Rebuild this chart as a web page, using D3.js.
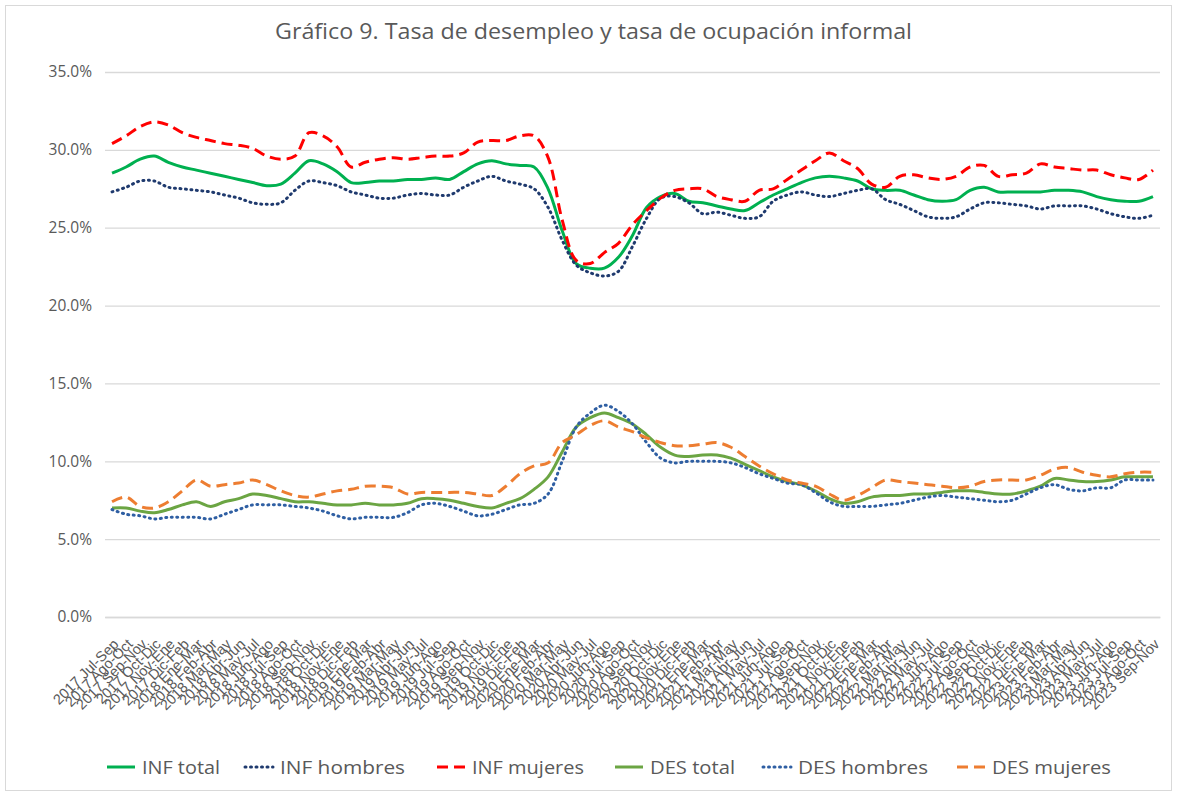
<!DOCTYPE html>
<html><head><meta charset="utf-8">
<script src="https://cdn.jsdelivr.net/npm/d3@7"></script>
<style>
body{margin:0;background:#fff;}
svg{display:block;font-family:"Open Sans","Liberation Sans",sans-serif;}
</style></head>
<body><svg id="c" width="1177" height="796"></svg>
<script>
const categories = [
"2017 Jul-Sep","2017 Ago-Oct","2017 Sep-Nov","2017 Oct-Dic","2017 Nov-Ene","2017 Dic-Feb",
"2018 Ene-Mar","2018 Feb-Abr","2018 Mar-May","2018 Abr-Jun","2018 May-Jul","2018 Jun-Ago",
"2018 Jul-Sep","2018 Ago-Oct","2018 Sep-Nov","2018 Oct-Dic","2018 Nov-Ene","2018 Dic-Feb",
"2019 Ene-Mar","2019 Feb-Abr","2019 Mar-May","2019 Abr-Jun","2019 May-Jul","2019 Jun-Ago",
"2019 Jul-Sep","2019 Ago-Oct","2019 Sep-Nov","2019 Oct-Dic","2019 Nov-Ene","2019 Dic-Feb",
"2020 Ene-Mar","2020 Feb-Abr","2020 Mar-May","2020 Abr-Jun","2020 May-Jul","2020 Jun-Ago",
"2020 Jul-Sep","2020 Ago-Oct","2020 Sep-Nov","2020 Oct-Dic","2020 Nov-Ene","2020 Dic-Feb",
"2021 Ene-Mar","2021 Feb-Abr","2021 Mar-May","2021 Abr-Jun","2021 May-Jul","2021 Jun-Ago",
"2021 Jul-Sep","2021 Ago-Oct","2021 Sep-Nov","2021 Oct-Dic","2021 Nov-Ene","2021 Dic-Feb",
"2022 Ene-Mar","2022 Feb-Abr","2022 Mar-May","2022 Abr-Jun","2022 May-Jul","2022 Jun-Ago",
"2022 Jul-Sep","2022 Ago-Oct","2022 Sep-Nov","2022 Oct-Dic","2022 Nov-Ene","2022 Dic-Feb",
"2023 Ene-Mar","2023 Feb-Abr","2023 Mar-May","2023 Abr-Jun","2023 May-Jul","2023 Jun-Ago",
"2023 Jul-Sep","2023 Ago-Oct","2023 Sep-Nov"];

const infTotal = [28.5,28.9,29.4,29.6,29.2,28.9,28.7,28.5,28.3,28.1,27.9,27.7,27.8,28.5,29.3,29.1,28.6,27.9,27.9,28.0,
28.0,28.1,28.1,28.2,28.1,28.6,29.1,29.3,29.1,29.0,28.9,27.5,24.8,22.7,22.4,22.4,23.1,24.5,26.3,27.0,
27.2,26.7,26.6,26.4,26.2,26.1,26.6,27.1,27.5,27.9,28.2,28.3,28.2,28.0,27.5,27.4,27.4,27.1,26.8,26.7,
26.8,27.4,27.6,27.3,27.3,27.3,27.3,27.4,27.4,27.3,27.0,26.8,26.7,26.7,27.0];
const infHombres = [27.3,27.6,28.0,28.0,27.6,27.5,27.4,27.3,27.1,26.9,26.6,26.5,26.6,27.4,28.0,27.9,27.7,27.3,27.1,26.9,
26.9,27.1,27.2,27.1,27.1,27.6,28.0,28.3,28.0,27.8,27.5,26.3,24.2,22.6,22.1,21.9,22.2,23.8,25.6,26.9,
27.0,26.6,25.9,26.0,25.8,25.6,25.7,26.7,27.1,27.3,27.1,27.0,27.2,27.4,27.5,26.8,26.5,26.1,25.7,25.6,
25.7,26.2,26.6,26.6,26.5,26.4,26.2,26.4,26.4,26.4,26.2,25.9,25.7,25.6,25.8];
const infMujeres = [30.4,30.9,31.5,31.8,31.6,31.1,30.8,30.6,30.4,30.3,30.1,29.6,29.4,29.6,31.1,30.9,30.2,28.9,29.2,29.4,
29.5,29.4,29.5,29.6,29.6,29.8,30.5,30.6,30.6,30.9,30.9,29.5,25.5,22.9,22.7,23.4,24.0,25.2,26.1,26.9,
27.4,27.5,27.5,27.0,26.8,26.7,27.4,27.5,28.1,28.7,29.3,29.8,29.3,28.8,27.8,27.6,28.3,28.4,28.2,28.1,
28.3,28.9,29.0,28.3,28.4,28.5,29.1,28.9,28.8,28.7,28.7,28.4,28.2,28.1,28.7];
const desTotal = [7.0,7.0,6.8,6.7,6.9,7.2,7.4,7.1,7.4,7.6,7.9,7.8,7.6,7.4,7.4,7.3,7.2,7.2,7.3,7.2,
7.2,7.3,7.6,7.6,7.5,7.3,7.1,7.0,7.3,7.6,8.2,9.0,10.6,12.2,12.8,13.1,12.8,12.4,11.7,10.9,
10.4,10.3,10.4,10.4,10.2,9.8,9.4,9.0,8.7,8.5,8.1,7.6,7.3,7.4,7.7,7.8,7.8,7.9,7.9,8.0,
8.1,8.1,8.0,7.9,7.9,8.1,8.4,8.9,8.8,8.7,8.7,8.8,9.0,9.0,9.0];
const desHombres = [6.9,6.6,6.5,6.3,6.4,6.4,6.4,6.3,6.6,6.9,7.2,7.2,7.2,7.1,7.0,6.8,6.5,6.3,6.4,6.4,
6.4,6.7,7.2,7.3,7.1,6.8,6.5,6.6,6.9,7.2,7.3,7.9,10.0,12.2,13.1,13.6,13.2,12.4,11.2,10.2,
9.9,10.0,10.0,10.0,9.9,9.6,9.2,8.9,8.6,8.5,8.0,7.4,7.1,7.1,7.1,7.2,7.3,7.5,7.7,7.8,
7.7,7.6,7.5,7.4,7.5,7.9,8.3,8.5,8.2,8.1,8.3,8.3,8.8,8.8,8.8];
const desMujeres = [7.4,7.7,7.1,7.0,7.4,8.1,8.8,8.4,8.5,8.6,8.8,8.5,8.1,7.8,7.7,7.9,8.1,8.2,8.4,8.4,
8.3,7.9,8.0,8.0,8.0,8.0,7.9,7.8,8.4,9.2,9.7,9.9,11.2,11.7,12.3,12.6,12.2,11.9,11.5,11.2,
11.0,11.0,11.1,11.2,10.9,10.3,9.7,9.2,8.8,8.6,8.4,7.9,7.5,7.8,8.3,8.8,8.7,8.6,8.5,8.4,
8.3,8.4,8.7,8.8,8.8,8.8,9.1,9.5,9.6,9.3,9.1,9.0,9.2,9.3,9.3];

const seriesNames = ["INF total","INF hombres","INF mujeres","DES total","DES hombres","DES mujeres"];
const yTicks = [0,5,10,15,20,25,30,35];
const title = "Gráfico 9. Tasa de desempleo y tasa de ocupación informal";

const seriesValues = [infTotal, infHombres, infMujeres, desTotal, desHombres, desMujeres];
const styles = [
  {color:"#00B050", dash:null, cap:"butt", lx:107, tw:78},
  {color:"#1F3A6E", dash:"1,4.5", cap:"round", lx:245, tw:125},
  {color:"#FF0000", dash:"11,6", cap:"butt", lx:437, tw:112},
  {color:"#6BA543", dash:null, cap:"butt", lx:615, tw:85},
  {color:"#2F5FA3", dash:"1,4.5", cap:"round", lx:763, tw:130},
  {color:"#ED7D31", dash:"11,6", cap:"butt", lx:957, tw:119}
];

const svg = d3.select("#c");
svg.append("rect").attr("x",5.5).attr("y",5.5).attr("width",1166).attr("height",785)
  .attr("fill","#fff").attr("stroke","#D9D9D9");

const x = d3.scalePoint().domain(categories).range([105,1160]).padding(0.5);
const y = d3.scaleLinear().domain([0,35]).range([617,72]);

svg.append("text").attr("x",275).attr("y",39)
  .attr("font-size",21).attr("fill","#595959")
  .attr("textLength",637).attr("lengthAdjust","spacingAndGlyphs").text(title);

// grid
const gy = svg.append("g").attr("transform","translate(105,0)")
  .call(d3.axisLeft(y).tickValues(yTicks).tickSize(-1055).tickFormat(d=>d.toFixed(1)+"%"));
gy.select(".domain").remove();
gy.selectAll(".tick line").attr("stroke","#D9D9D9").attr("stroke-width",1.3);
gy.selectAll(".tick text").attr("fill","#595959").attr("font-size",15.5).attr("x",-13)
  .attr("font-family","'Open Sans',sans-serif");

// x axis labels
const gx = svg.append("g").attr("transform","translate(0,617)")
  .call(d3.axisBottom(x).tickSize(0));
gx.select(".domain").attr("stroke","#D9D9D9").attr("stroke-width",1.3);
gx.selectAll(".tick text").attr("fill","#595959").attr("font-size",14.5)
  .attr("text-anchor","end").attr("dy",0).attr("y",0)
  .attr("transform","translate(7,28) rotate(-45)");

const line = d3.line().x((d,i)=>x(categories[i])).y(d=>y(d)).curve(d3.curveCatmullRom.alpha(0.5));
const order = [3,4,5,0,1,2];
order.forEach(k=>{
  const s = styles[k];
  svg.append("path").datum(seriesValues[k]).attr("d",line).attr("fill","none")
    .attr("stroke",s.color).attr("stroke-width",3)
    .attr("stroke-linecap",s.cap).attr("stroke-linejoin","round")
    .attr("stroke-dasharray",s.dash);
});

// legend
const lg = svg.append("g");
seriesNames.forEach((n,k)=>{
  const s = styles[k];
  const g = lg.append("g").attr("transform",`translate(${s.lx},767)`);
  g.append("line").attr("x1",0).attr("x2",28).attr("y1",0).attr("y2",0)
    .attr("stroke",s.color).attr("stroke-width",3).attr("stroke-linecap",s.cap)
    .attr("stroke-dasharray",s.dash);
  g.append("text").attr("x",35).attr("y",7).attr("font-size",18).attr("fill","#595959")
    .attr("textLength",s.tw).attr("lengthAdjust","spacingAndGlyphs").text(n);
});
</script></body></html>
